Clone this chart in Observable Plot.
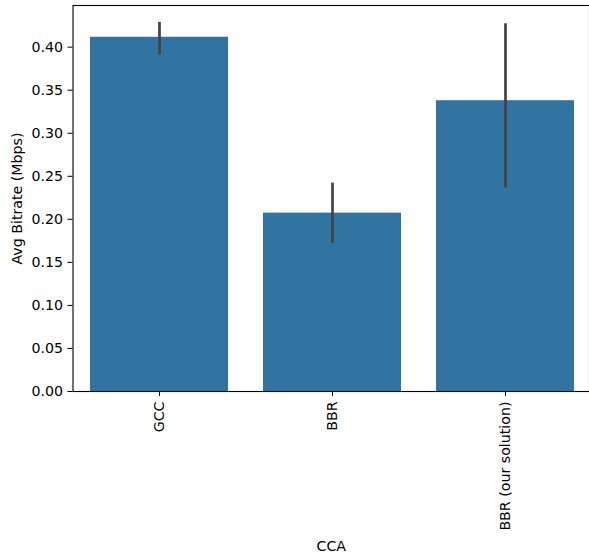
<!DOCTYPE html>
<html>
<head>
<meta charset="utf-8">
<script src="https://cdn.jsdelivr.net/npm/d3@7"></script>
<script src="https://cdn.jsdelivr.net/npm/@observablehq/plot@0.6"></script>
<style>
  html, body { margin: 0; padding: 0; background: #fff; }
  #chart svg { display: block; }
</style>
</head>
<body>
<div id="chart"></div>
<script>
const categories = ["GCC", "BBR", "BBR (our solution)"];
const values = [0.4115, 0.2072, 0.3378];
const ciLow = [0.391, 0.1722, 0.2365];
const ciHigh = [0.4288, 0.2421, 0.4272];
const yTicks = [0, 0.05, 0.10, 0.15, 0.20, 0.25, 0.30, 0.35, 0.40];

const data = categories.map((c, i) => ({cca: c, value: values[i], lo: ciLow[i], hi: ciHigh[i]}));

const chart = Plot.plot({
  width: 589,
  height: 557,
  marginLeft: 72.5,
  marginTop: 5,
  marginBottom: 166,
  marginRight: 0,
  style: {fontFamily: "'DejaVu Sans', sans-serif", fontSize: "14.2px", color: "#000", background: "#fff"},
  x: {domain: categories, range: [72.5, 591.5], paddingInner: 0.2, paddingOuter: 0.1},
  y: {domain: [0, 0.4484], range: [391, 5]},
  marks: [
    Plot.barY(data, {x: "cca", y: "value", fill: "#3274a1"}),
    Plot.ruleX(data, {x: "cca", y1: "lo", y2: "hi", stroke: "#424242", strokeWidth: 2.7}),
    Plot.frame({stroke: "#000", strokeWidth: 1.1}),
    Plot.axisY({ticks: yTicks, tickFormat: d => d.toFixed(2), tickSize: 5, tickPadding: 5, label: null, stroke: "#000", fill: "#000"}),
    Plot.axisX({tickRotate: -90, tickSize: 5, tickPadding: 5, label: null, stroke: "#000", fill: "#000"}),
    Plot.text(["Avg Bitrate (Mbps)"], {frameAnchor: "left", dx: -56, rotate: -90, textAnchor: "middle", lineAnchor: "middle", fill: "#000"}),
    Plot.text(["CCA"], {frameAnchor: "bottom", dy: 154.5, textAnchor: "middle", lineAnchor: "middle", fill: "#000"})
  ]
});
document.getElementById("chart").appendChild(chart);
</script>
</body>
</html>
